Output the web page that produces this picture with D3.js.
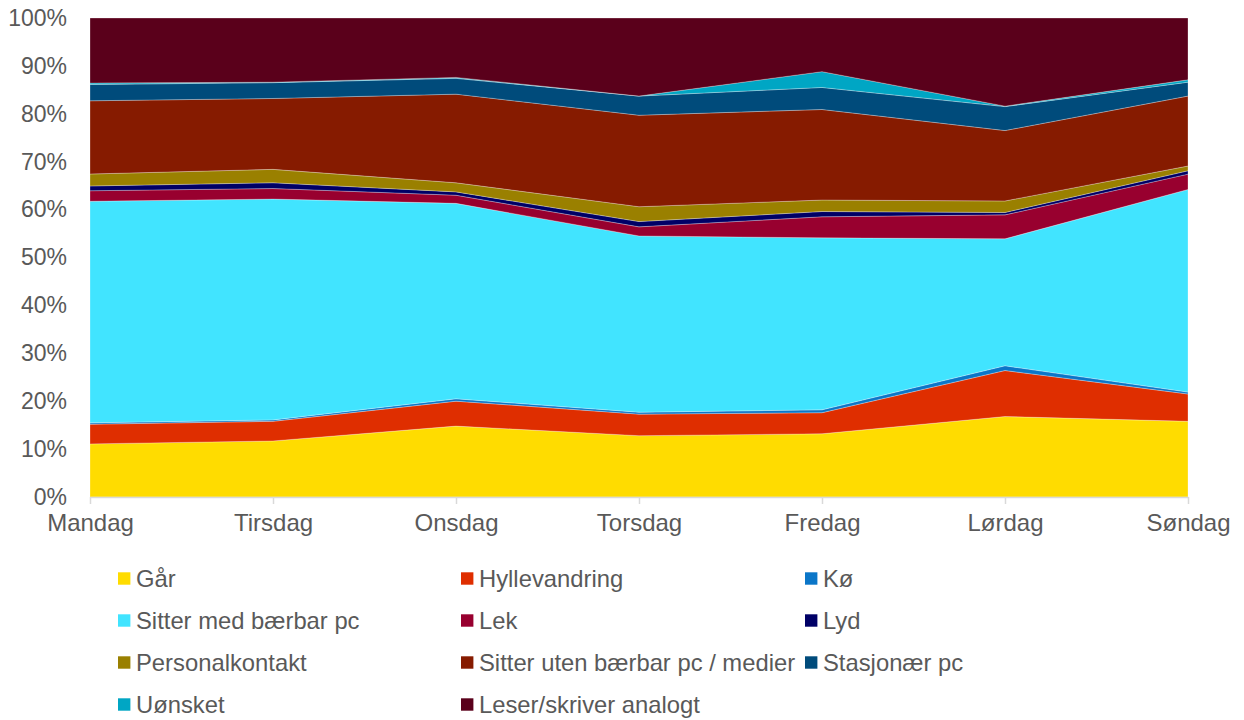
<!DOCTYPE html>
<html>
<head>
<meta charset="utf-8">
<script src="https://cdn.jsdelivr.net/npm/d3@7"></script>
<style>
  html, body { margin: 0; padding: 0; background: #fff; }
  svg { display: block; font-family: "Liberation Sans", Arial, sans-serif; }
</style>
</head>
<body>
<svg id="chart" width="1244" height="720"></svg>
<script>
// ---- data (percent of observations per weekday) ----
const days = ["Mandag", "Tirsdag", "Onsdag", "Torsdag", "Fredag", "Lørdag", "Søndag"];
const seriesNames = ["Går", "Hyllevandring", "Kø", "Sitter med bærbar pc", "Lek", "Lyd",
  "Personalkontakt", "Sitter uten bærbar pc / medier", "Stasjonær pc", "Uønsket", "Leser/skriver analogt"];
const gaar        = [11.1, 11.7, 14.8, 12.8, 13.2, 16.8, 15.8];
const hylle       = [4.1, 4.1, 5.2, 4.5, 4.4, 9.6, 5.7];
const koe         = [0.3, 0.3, 0.5, 0.4, 0.6, 1.0, 0.4];
const medPc       = [46.3, 46.1, 40.8, 36.8, 35.9, 26.5, 42.3];
const lek         = [2.2, 2.2, 1.7, 1.9, 4.4, 5.0, 3.2];
const lyd         = [1.0, 1.2, 0.7, 1.1, 1.1, 0.5, 0.7];
const personal    = [2.5, 2.8, 1.9, 3.1, 2.4, 2.4, 1.0];
const utenPc      = [15.3, 14.8, 18.5, 19.1, 18.9, 14.7, 14.6];
const stasjonaer  = [3.4, 3.3, 3.3, 4.0, 4.6, 5.0, 2.9];
const uonsket     = [0.3, 0.1, 0.2, 0.0, 3.3, 0.1, 0.5];
const leser       = [13.6, 13.4, 12.4, 16.3, 11.2, 18.4, 12.9];
const yTicks = [0, 0.1, 0.2, 0.3, 0.4, 0.5, 0.6, 0.7, 0.8, 0.9, 1.0];

const seriesValues = [gaar, hylle, koe, medPc, lek, lyd, personal, utenPc, stasjonaer, uonsket, leser];
const colors = ["#FFDC00", "#DF2E00", "#0B76C8", "#41E4FF", "#98002F", "#000066",
  "#9A8000", "#861B00", "#004B7B", "#00A6C4", "#5A001B"];

// build table for the stack
const table = days.map((d, i) => {
  const row = { day: d };
  seriesNames.forEach((s, k) => { row[s] = seriesValues[k][i]; });
  return row;
});

const svg = d3.select("#chart");
const textColor = "#595959";

const x = d3.scalePoint().domain(days).range([90, 1188]);
const y = d3.scaleLinear().domain([0, 1]).range([497, 18]);

const stack = d3.stack().keys(seriesNames).offset(d3.stackOffsetExpand);
const layers = stack(table);

const area = d3.area()
  .x(d => x(d.data.day))
  .y0(d => y(d[0]))
  .y1(d => y(d[1]));

svg.append("g").selectAll("path")
  .data(layers)
  .join("path")
  .attr("d", area)
  .attr("fill", (d, i) => colors[i])
  .attr("stroke", "rgba(255,255,255,0.35)")
  .attr("stroke-width", 0.8);

// y axis labels
const yAxis = d3.axisLeft(y).tickValues(yTicks).tickFormat(d3.format(".0%")).tickSize(0).tickPadding(0);
const gy = svg.append("g").attr("transform", "translate(67,0)").call(yAxis);
gy.select(".domain").remove();
gy.selectAll("text").attr("fill", textColor).style("font-size", "23px")
  .style("font-family", "'Liberation Sans', Arial, sans-serif");

// x axis
const xAxis = d3.axisBottom(x).tickSize(7).tickPadding(10).tickSizeOuter(0);
const gx = svg.append("g").attr("transform", "translate(0,497)").call(xAxis);
gx.select(".domain").attr("stroke", "#D9D9D9").attr("stroke-width", 1.5);
gx.selectAll(".tick line").attr("stroke", "#D9D9D9").attr("stroke-width", 1.5);
gx.selectAll("text").attr("fill", textColor).style("font-size", "24px")
  .style("font-family", "'Liberation Sans', Arial, sans-serif");

// legend
const colX = [118, 461, 805];
const rowY = [578.5, 620.5, 662.5, 704.5];
const leg = svg.append("g");
seriesNames.forEach((s, i) => {
  const cx = colX[i % 3], cy = rowY[Math.floor(i / 3)];
  const g = leg.append("g").attr("transform", `translate(${cx},${cy})`);
  g.append("rect").attr("x", 0).attr("y", -6.2).attr("width", 12.4).attr("height", 12.4).attr("fill", colors[i]);
  g.append("text").attr("x", 18).attr("y", 0).attr("dy", "0.35em")
    .attr("fill", textColor).style("font-size", "23.8px").text(s);
});
</script>
</body>
</html>
